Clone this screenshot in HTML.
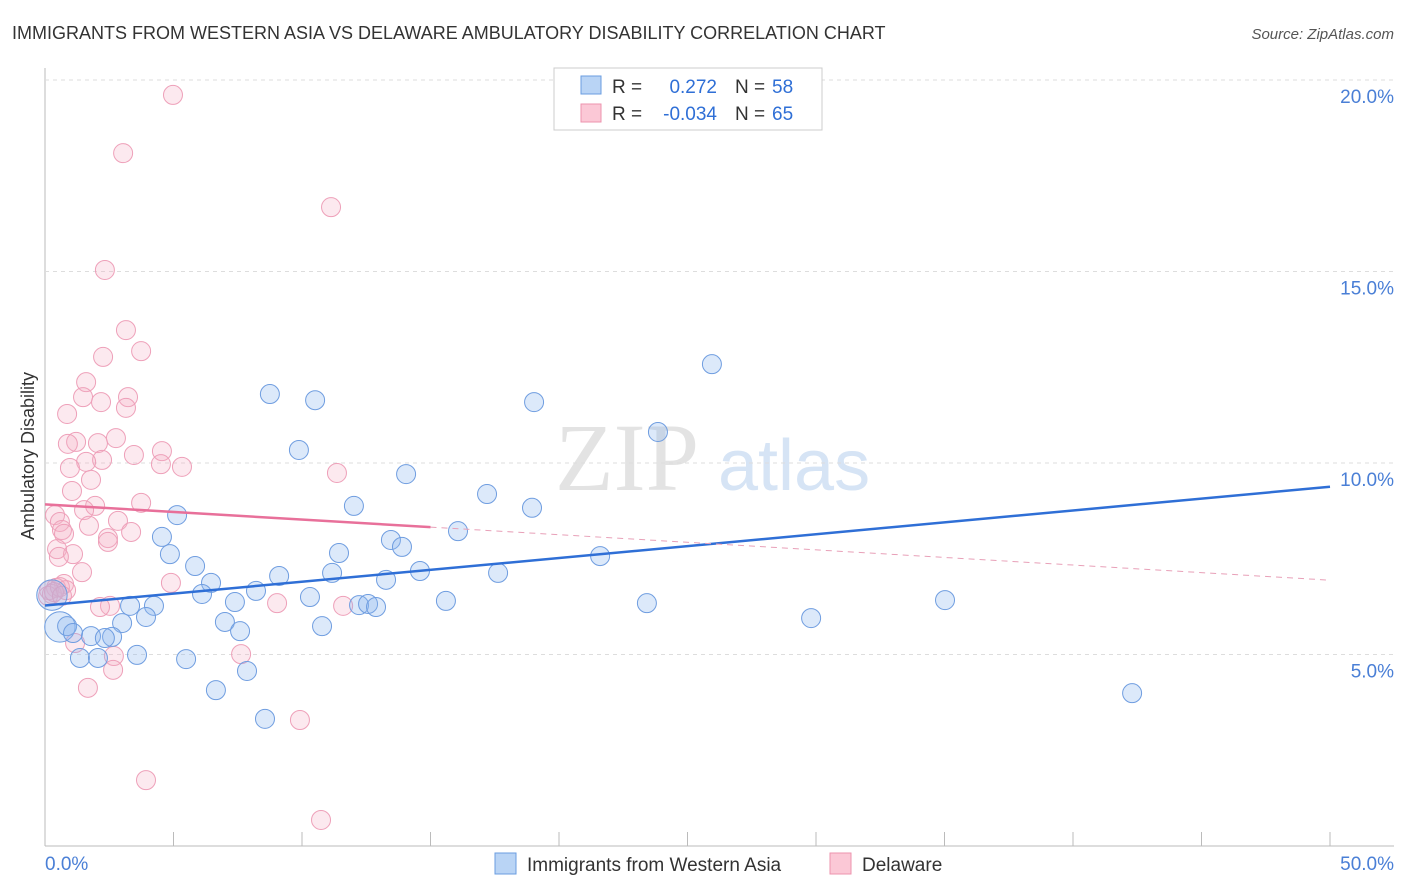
<!DOCTYPE html>
<html><head><meta charset="utf-8"><style>
body{margin:0;background:#fff;font-family:"Liberation Sans",sans-serif}
svg{display:block}
</style></head><body>
<svg id="c" width="1406" height="892" xmlns="http://www.w3.org/2000/svg">
<text x="12" y="39" font-size="18" fill="#333">IMMIGRANTS FROM WESTERN ASIA VS DELAWARE AMBULATORY DISABILITY CORRELATION CHART</text>
<text x="1394" y="39" font-size="15" fill="#555" font-style="italic" text-anchor="end">Source: ZipAtlas.com</text>
<text transform="translate(34,456) rotate(-90)" font-size="18" fill="#333" text-anchor="middle">Ambulatory Disability</text>
<text x="555" y="490" font-size="96" fill="#e3e3e3" font-family="Liberation Serif,serif">ZIP</text>
<text x="718" y="490" font-size="72" fill="#d6e4f5">atlas</text>
<g id="grid"></g><g id="pts"></g><g id="lines"></g>
<g>
<rect x="554" y="68" width="268" height="62" fill="#fff" stroke="#ccc"/>
<rect x="581" y="76" width="20" height="18" fill="#b9d4f5" stroke="#6a9de0"/>
<rect x="581" y="104" width="20" height="18" fill="#fbc8d6" stroke="#ec93ae"/>
<text y="93" font-size="19" fill="#333"><tspan x="612">R =</tspan><tspan x="717" text-anchor="end" fill="#2f6fd6">0.272</tspan><tspan x="735">N =</tspan><tspan x="772" fill="#2f6fd6">58</tspan></text>
<text y="120" font-size="19" fill="#333"><tspan x="612">R =</tspan><tspan x="717" text-anchor="end" fill="#2f6fd6">-0.034</tspan><tspan x="735">N =</tspan><tspan x="772" fill="#2f6fd6">65</tspan></text>
</g>
<g>
<rect x="495" y="853" width="21" height="21" fill="#b9d4f5" stroke="#6a9de0"/>
<text x="527" y="871" font-size="19" fill="#333">Immigrants from Western Asia</text>
<rect x="830" y="853" width="21" height="21" fill="#fbc8d6" stroke="#ec93ae"/>
<text x="862" y="871" font-size="19" fill="#333">Delaware</text>
</g>
<text x="45" y="870" font-size="19" fill="#4a7fd6">0.0%</text>
<text x="1394" y="870" font-size="19" fill="#4a7fd6" text-anchor="end">50.0%</text>
</svg>
<script>
const yTicks=[5,10,15,20];
const yTickLabels=["5.0%","10.0%","15.0%","20.0%"];
const blueX=[8.75,10.51,9.88,19.03,25.95,23.85,14.05,17.20,12.02,18.95,5.14,16.07,4.55,13.46,13.89,11.44,4.86,21.60,5.84,14.59,17.63,9.11,11.17,13.27,6.46,8.21,6.11,10.31,7.39,12.22,12.57,12.88,4.24,3.31,15.60,23.42,35.02,3.93,29.81,7.00,3.00,10.78,7.59,0.58,0.86,1.09,1.79,2.61,2.33,3.58,5.49,1.36,2.06,7.86,6.65,42.30,8.56,0.27];
const blueY=[11.80,11.64,10.34,11.59,12.58,10.81,9.71,9.19,8.88,8.83,8.64,8.22,8.07,7.99,7.81,7.65,7.62,7.57,7.31,7.18,7.13,7.05,7.13,6.95,6.87,6.66,6.58,6.50,6.37,6.29,6.32,6.24,6.27,6.27,6.40,6.34,6.42,5.98,5.95,5.85,5.82,5.74,5.61,5.72,5.74,5.56,5.48,5.46,5.43,4.99,4.88,4.91,4.91,4.57,4.07,3.99,3.32,6.55];
const blueSize=[1,1,1,1,1,1,1,1,1,1,1,1,1,1,1,1,1,1,1,1,1,1,1,1,1,1,1,1,1,1,1,1,1,1,1,1,1,1,1,1,1,1,1,1.6,1,1,1,1,1,1,1,1,1,1,1,1,1,1.6];
const pinkX=[4.98,3.04,11.13,2.33,3.15,3.74,2.26,1.60,3.23,1.48,2.18,3.15,0.86,2.76,1.21,2.06,0.89,4.55,3.46,2.22,1.60,4.51,5.33,0.97,11.36,1.79,1.05,1.95,3.74,1.52,0.39,0.58,2.84,1.71,0.66,0.74,2.45,3.35,2.45,0.47,1.09,0.54,1.44,4.90,0.74,0.43,0.16,0.27,0.12,9.03,11.60,2.53,2.14,1.17,7.63,2.68,2.65,1.67,9.92,3.93,10.74,0.58,0.82,0.35,0.66];
const pinkY=[19.61,18.09,16.68,15.04,13.47,12.92,12.77,12.11,11.72,11.72,11.59,11.44,11.28,10.65,10.55,10.52,10.50,10.31,10.21,10.08,10.03,9.97,9.90,9.87,9.74,9.56,9.27,8.88,8.96,8.77,8.64,8.46,8.49,8.36,8.25,8.15,8.04,8.20,7.94,7.75,7.62,7.55,7.15,6.87,6.84,6.74,6.68,6.58,6.53,6.34,6.27,6.27,6.24,5.30,5.01,4.96,4.60,4.13,3.29,1.72,0.68,6.76,6.68,6.63,6.53];
const blueTrend=[6.28,9.38];
const pinkTrend=[8.92,6.94];
const pinkSolidEnd=15;
const NS='http://www.w3.org/2000/svg';
const X=v=>45+v*25.7, Y=v=>846-v*38.3;
function mk(t,a,p){const e=document.createElementNS(NS,t);for(const k in a)e.setAttribute(k,a[k]);p.appendChild(e);return e;}
const gridG=document.getElementById('grid');
let ax=mk('line',{x1:45,y1:68,x2:45,y2:846,stroke:'#bbb'},gridG);


let bx=mk('line',{x1:45,y1:846,x2:1394,y2:846,stroke:'#bbb'},gridG);


for(let i=0;i<=10;i++){const t=mk('line',{x1:X(i*5),y1:832,x2:X(i*5),y2:846,stroke:'#bbb'},gridG);

}
yTicks.forEach((v,i)=>{const g=mk('line',{x1:45,y1:Y(v),x2:1394,y2:Y(v),stroke:'#ddd','stroke-dasharray':'4,4'},gridG);


const t=mk('text',{x:1394,y:Y(v)+23,'font-size':19,fill:'#4a7fd6','text-anchor':'end'},gridG);t.textContent=yTickLabels[i];

});
const ptsG=document.getElementById('pts');
pinkX.forEach((x,i)=>{const c=mk('circle',{cx:X(x),cy:Y(pinkY[i]),r:9.5,fill:'rgba(245,175,198,0.28)',stroke:'#eea0b9','stroke-width':1},ptsG);

});
blueX.forEach((x,i)=>{const c=mk('circle',{cx:X(x),cy:Y(blueY[i]),r:9.5*blueSize[i],fill:'rgba(140,182,238,0.3)',stroke:'#6f9de0','stroke-width':1},ptsG);

});
const linesG=document.getElementById('lines');
const bl=mk('line',{x1:X(0),y1:Y(blueTrend[0]),x2:X(50),y2:Y(blueTrend[1]),stroke:'#2f6fd6','stroke-width':2.5},linesG);


const pm=pinkTrend[0]+(pinkTrend[1]-pinkTrend[0])*pinkSolidEnd/50;
const pl=mk('line',{x1:X(0),y1:Y(pinkTrend[0]),x2:X(pinkSolidEnd),y2:Y(pm),stroke:'#e8709a','stroke-width':2.5},linesG);


const pd=mk('line',{x1:X(pinkSolidEnd),y1:Y(pm),x2:X(50),y2:Y(pinkTrend[1]),stroke:'#e8a0b8','stroke-width':1,'stroke-dasharray':'6,5'},linesG);


</script>
</body></html>
